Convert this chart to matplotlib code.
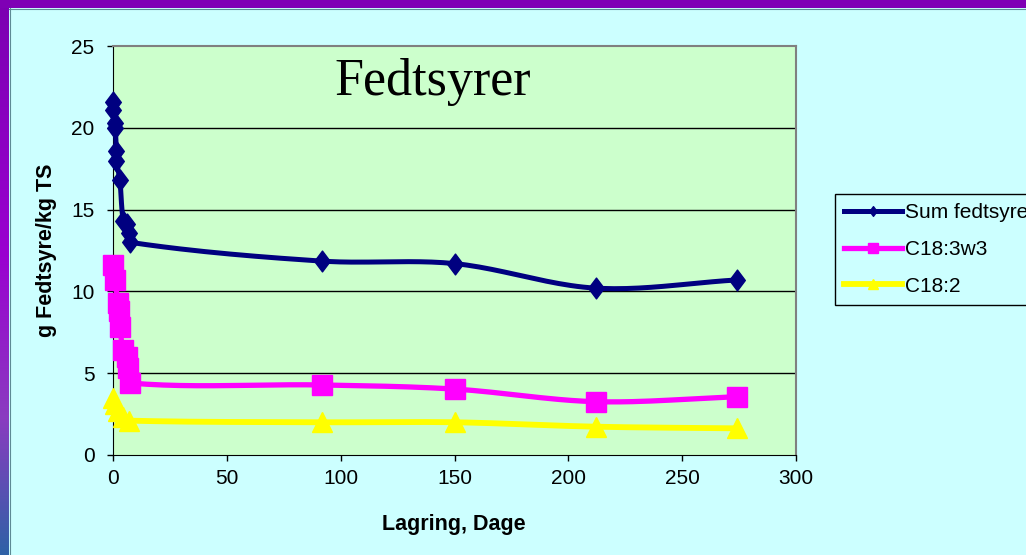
import matplotlib
matplotlib.use("Agg")
import matplotlib.pyplot as plt
from matplotlib.lines import Line2D
from matplotlib.colors import LinearSegmentedColormap
from matplotlib.path import Path
import numpy as np

# storage days and fatty acid content (g/kg TS)
sum_days = [0, 0, 1, 1, 1.5, 1.5, 3, 4.5, 6, 7, 7.5, 92, 150, 212, 274]
sum_vals = [21.6, 21.1, 20.3, 20.0, 18.6, 18.0, 16.8, 14.3, 14.1, 13.6, 13.0, 11.85, 11.7, 10.2, 10.7]

c183_days = [0, 1, 2, 2.5, 3, 4.5, 6, 6.7, 7.5, 92, 150, 212, 274]
c183_vals = [11.6, 10.7, 9.3, 8.8, 7.8, 6.4, 6.0, 5.3, 4.4, 4.28, 4.03, 3.26, 3.56]

c182_days = [0, 1, 2, 4.5, 7, 92, 150, 212, 274]
c182_vals = [3.5, 3.1, 2.7, 2.3, 2.1, 2.0, 2.0, 1.73, 1.63]

labels = ["Sum fedtsyre", "C18:3w3", "C18:2"]
colors = ["#000080", "#FF00FF", "#FFFF00"]

W, H = 1026, 555
fig = plt.figure(figsize=(W / 100, H / 100), dpi=100)
fig.patch.set_facecolor("#CCFFFF")
plt.rcParams["font.family"] = ["Liberation Sans", "DejaVu Sans"]

# purple frame on top and left
fig.patches.append(plt.Rectangle((0, 1 - 8 / H), 1, 8 / H, transform=fig.transFigure,
                                 facecolor="#7F00B5", edgecolor="none", zorder=0))
fig.add_artist(Line2D([9 / W, 1], [1 - 8.5 / H, 1 - 8.5 / H], transform=fig.transFigure,
                      color="#5E8A94", lw=0.8))
band = fig.add_axes([0, 0, 9 / W, 1 - 8 / H])
band.set_axis_off()
cmap = LinearSegmentedColormap.from_list(
    "frame", [(0, "#7C00B2"), (0.45, "#9A00D0"), (0.75, "#8A3CC0"), (1, "#2E62A6")])
band.imshow(np.linspace(0, 1, 256)[:, None], aspect="auto", cmap=cmap,
            extent=[0, 1, 0, 1], origin="upper")
fig.add_artist(Line2D([9.5 / W, 9.5 / W], [0, 1 - 8 / H], transform=fig.transFigure,
                      color="#5E8A94", lw=0.8))

ax = fig.add_axes([113 / W, 1 - 455 / H, 683 / W, 409 / H])
ax.set_facecolor("#CCFFCC")
ax.set_xlim(0, 300)
ax.set_ylim(0, 25)


def smooth(xs, ys, n=24):
    # bezier smoothing in screen-like units, handles limited to 1/3 of segment
    sx, sy = 683 / 300, 409 / 25
    P = np.column_stack([np.asarray(xs, float) * sx, np.asarray(ys, float) * sy])
    out = []
    t = np.linspace(0, 1, n)[:, None]

    def unit(v):
        l = np.hypot(*v)
        return v / l if l > 0 else v * 0

    for i in range(len(P) - 1):
        p0 = P[i - 1] if i > 0 else P[i]
        p1, p2 = P[i], P[i + 1]
        p3 = P[i + 2] if i + 2 < len(P) else P[i + 1]
        seg = np.hypot(*(p2 - p1)) / 3
        c1 = p1 + unit(p2 - p0) * seg
        c2 = p2 - unit(p3 - p1) * seg
        out.append((1 - t) ** 3 * p1 + 3 * (1 - t) ** 2 * t * c1 + 3 * (1 - t) * t ** 2 * c2 + t ** 3 * p2)
    out = np.vstack(out)
    return out[:, 0] / sx, out[:, 1] / sy


diamond = Path([(0, 1), (0.75, 0), (0, -1), (-0.75, 0), (0, 1)], closed=True)
series = [(sum_days, sum_vals, diamond, 15, 3.6),
          (c183_days, c183_vals, "s", 14, 3.8),
          (c182_days, c182_vals, "^", 14.5, 4.2)]

for (d, v, m, ms, lw), col in zip(series, colors):
    sx_, sy_ = smooth(d, v)
    ax.plot(sx_, sy_, color=col, lw=lw, solid_capstyle="round", clip_on=False, zorder=3)
    ax.plot(d, v, ls="none", marker=m, ms=ms, color=col, mec=col, clip_on=False, zorder=4)

# axes styling
for y in [5, 10, 15, 20]:
    ax.axhline(y, color="black", lw=1, zorder=1)
ax.spines["top"].set_color("#808080")
ax.spines["right"].set_color("#808080")
for s in ["top", "right"]:
    ax.spines[s].set_linewidth(1.5)
ax.spines["left"].set_color("black")
ax.spines["bottom"].set_color("black")
ax.set_xticks(range(0, 301, 50))
ax.set_yticks(range(0, 26, 5))
ax.tick_params(direction="out", length=4.3, width=1, labelsize=15, colors="black")
ax.tick_params(axis="y", pad=9)
ax.tick_params(axis="x", pad=6)

ax.set_xlabel("Lagring, Dage", fontsize=15.5, fontweight="bold")
ax.set_ylabel("g Fedtsyre/kg TS", fontsize=15.5, fontweight="bold")
ax.xaxis.set_label_coords(0.4985, -0.144)
ax.yaxis.set_label_coords(-0.082, 0.5)

ax.text(140.3, 22.0, "Fedtsyrer", family=["Liberation Serif", "DejaVu Serif"],
        fontsize=37.5, ha="center", va="baseline")

handles = [Line2D([], [], color=colors[0], lw=3.6, marker=diamond, ms=7),
           Line2D([], [], color=colors[1], lw=3.8, marker="s", ms=7),
           Line2D([], [], color=colors[2], lw=4.2, marker="^", ms=7)]
leg = fig.legend(handles, labels, loc="upper left", bbox_to_anchor=(835 / W, 1 - 194 / H),
                 fontsize=15, frameon=True, fancybox=False, facecolor="#CCFFFF",
                 edgecolor="black", framealpha=1, handlelength=2.75, handletextpad=0.15,
                 labelspacing=0.85, borderpad=0.45, borderaxespad=0)
leg.get_frame().set_linewidth(1)

fig.savefig("out.png", dpi=100, facecolor=fig.get_facecolor())
